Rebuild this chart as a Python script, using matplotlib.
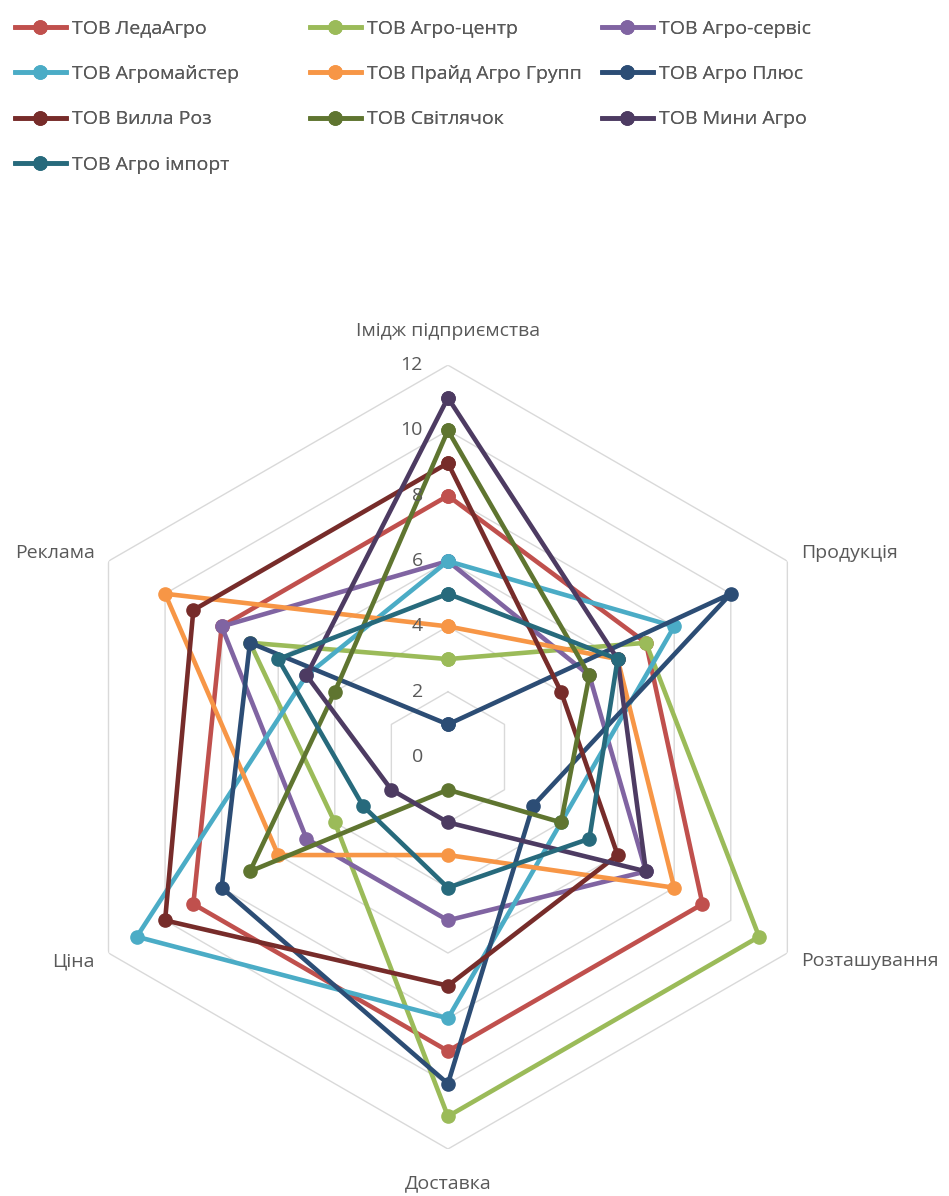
import numpy as np
import matplotlib
matplotlib.use('Agg')
import matplotlib.pyplot as plt

# ── data ─────────────────────────────────────────────────────────────────────
categories = ['Імідж підприємства', 'Продукція', 'Розташування',
              'Доставка', 'Ціна', 'Реклама']
series_names = ['ТОВ ЛедаАгро', 'ТОВ Агро-центр', 'ТОВ Агро-сервіс',
                'ТОВ Агромайстер', 'ТОВ Прайд Агро Групп', 'ТОВ Агро Плюс',
                'ТОВ Вилла Роз', 'ТОВ Світлячок', 'ТОВ Мини Агро',
                'ТОВ Агро імпорт']
leda_agro = [8, 7, 9, 9, 9, 8]
agro_centr = [3, 7, 11, 11, 4, 7]
agro_servis = [6, 5, 7, 5, 5, 8]
agromaister = [6, 8, 4, 8, 11, 5]
praid = [4, 6, 8, 3, 6, 10]
agro_plus = [1, 10, 3, 10, 8, 7]
villa_roz = [9, 4, 6, 7, 10, 9]
svitlyachok = [10, 5, 4, 1, 7, 4]
mini_agro = [11, 6, 7, 2, 2, 5]
agro_import = [5, 6, 5, 4, 3, 6]
values = [leda_agro, agro_centr, agro_servis, agromaister, praid,
          agro_plus, villa_roz, svitlyachok, mini_agro, agro_import]
r_ticks = [0, 2, 4, 6, 8, 10, 12]

colors = ['#C0504D', '#9BBB59', '#8064A2', '#4BACC6', '#F79646',
          '#2C4D75', '#772C2A', '#5F7530', '#4D3B62', '#276A7C']
text_color = '#595959'
fs = 14

plt.rcParams['font.family'] = ['Open Sans', 'DejaVu Sans']

fig = plt.figure(figsize=(9.49, 11.96), dpi=100)
ax = fig.add_axes([0.059, 0.039, 0.826, 0.656], projection='polar')
ax.set_theta_offset(np.pi / 2)
ax.set_theta_direction(-1)

n = len(categories)
angles = np.arange(n) * 2 * np.pi / n
angles_closed = np.append(angles, angles[0])

# hexagonal grid
for v in r_ticks[1:]:
    ax.plot(angles_closed, [v] * (n + 1), color='#D9D9D9', lw=1.0, zorder=0)

handles = []
for name, vals, c in zip(series_names, values, colors):
    h, = ax.plot(angles_closed, vals + vals[:1], color=c, lw=3.3, marker='o',
                 markersize=9.5, label=name, clip_on=False)
    handles.append(h)

ax.set_ylim(0, 12)
ax.grid(False)
ax.set_xticks([])
ax.set_yticks([])
ax.spines['polar'].set_visible(False)
ax.patch.set_visible(False)

# radial tick labels
for v in r_ticks:
    ax.annotate(str(v), xy=(0, v), xytext=(-18, 0), textcoords='offset points',
                ha='right', va='center', fontsize=fs, color=text_color)

# category labels
offsets = [((0, 18), 'center', 'bottom'),
           ((10, 6), 'left', 'center'),
           ((10, -6), 'left', 'center'),
           ((0, -18), 'center', 'top'),
           ((-10, -6), 'right', 'center'),
           ((-10, 6), 'right', 'center')]
for ang, lab, (off, ha, va) in zip(angles, categories, offsets):
    ax.annotate(lab, xy=(ang, 12), xytext=off, textcoords='offset points',
                ha=ha, va=va, fontsize=fs, color=text_color)

# legend: 3 fixed-width columns, filled row by row (like Excel)
col_x = [15, 310, 602]
for j, x0 in enumerate(col_x):
    idx = list(range(j, len(handles), 3))
    leg = fig.legend([handles[i] for i in idx], [series_names[i] for i in idx],
                     loc='upper left', bbox_to_anchor=(x0 / 949, 1 - 20 / 1196),
                     frameon=False, fontsize=fs, labelcolor=text_color,
                     handlelength=2.6, handletextpad=0.35, labelspacing=1.4,
                     borderpad=0, borderaxespad=0)
    fig.add_artist(leg)

fig.savefig('out.png', dpi=100)
